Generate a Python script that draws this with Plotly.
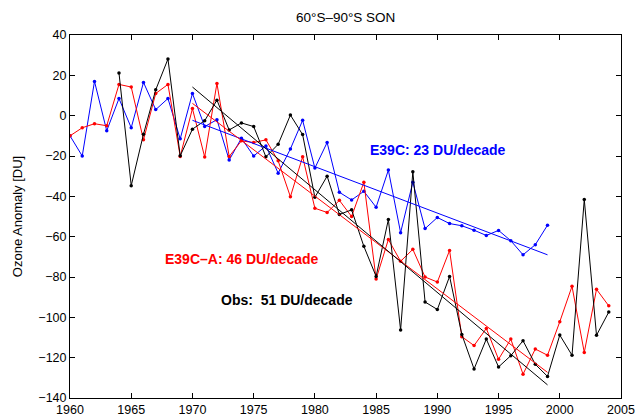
import plotly.graph_objects as go

# ---- data ----
years_e39c = list(range(1960, 2000))
e39c = [-10, -20, 17, -7.5, 8.5, -6, 16.5, 3, 8.5, -11.5,
        11, -5.4, -2, -22, -11.2, -20, -15, -28.5, -16.5, -2.3,
        -26, -13.3, -38, -41.8, -37.5, -45.4, -27, -58, -33, -56,
        -50.5, -53.5, -54.6, -56.8, -59.4, -56.9, -62, -69, -64, -54.3]

years_e39ca = list(range(1960, 2005))
e39ca = [-10, -6, -4, -5, 15.5, 14.2, -12, 11, 15.5, -20.2,
         3.5, -20.5, 16, -20.2, -12.5, -13.3, -12, -22.4, -40.2, -20.4,
         -45.9, -48, -42, -50, -33, -81, -61.4, -72.2, -66.3, -80,
         -82.5, -66.8, -109.6, -114, -105.5, -120.8, -110.8, -128.2, -115.7, -118.8,
         -102.2, -84.6, -117.4, -86.1, -94.3]

years_obs = list(range(1964, 2005))
obs = [21.2, -34.7, -9.2, 12.8, 28.1, -19.9,
       -6.7, -2.5, 7.7, -7.1, -3.6, -5.4, -20.4, -14.2, 0.3, -9.4,
       -40.5, -30, -49, -46.7, -64.8, -79.7, -51.5, -106.3, -27.8, -92.4,
       -96.1, -79.7, -108.5, -125.6, -110.8, -124.6, -119, -111.6, -123.3, -129.3,
       -108.8, -118.8, -41.6, -108.9, -97.4]

trend_years = [1970, 1999]
trend_e39c = [-2.3, -69.0]
trend_e39ca = [6.1, -127.3]
trend_obs = [14.2, -133.5]

x_ticks = list(range(1960, 2006, 5))
y_ticks = list(range(-140, 41, 20))

BLUE, RED, BLACK = "#0000FF", "#FF0000", "#000000"
FONT = "Liberation Sans, Arial, Helvetica, sans-serif"

fig = go.Figure()


def series(x, y, c):
    fig.add_trace(go.Scatter(x=x, y=y, mode="lines+markers",
                             line=dict(color=c, width=1),
                             marker=dict(color=c, size=3.5),
                             showlegend=False, hoverinfo="skip"))


def trend(x, y, c):
    fig.add_trace(go.Scatter(x=x, y=y, mode="lines",
                             line=dict(color=c, width=1),
                             showlegend=False, hoverinfo="skip"))


series(years_e39c, e39c, BLUE)
series(years_e39ca, e39ca, RED)
series(years_obs, obs, BLACK)
trend(trend_years, trend_e39c, BLUE)
trend(trend_years, trend_e39ca, RED)
trend(trend_years, trend_obs, BLACK)

axis_common = dict(showgrid=False, zeroline=False, showline=True,
                   linecolor="black", linewidth=1, mirror="ticks",
                   ticks="inside", ticklen=5, tickcolor="black",
                   tickfont=dict(family=FONT, size=12.5, color="black"))

fig.update_xaxes(range=[1960, 2005], tickvals=x_ticks,
                 ticktext=[str(v) for v in x_ticks], **axis_common)
fig.update_yaxes(range=[-140, 40], tickvals=y_ticks, **axis_common)

fig.update_layout(
    width=638, height=416,
    margin=dict(l=70, r=17, t=35, b=18, autoexpand=False),
    paper_bgcolor="white", plot_bgcolor="white",
    font=dict(family=FONT, size=12.5, color="black"),
    annotations=[
        dict(text="60°S–90°S SON", xref="paper", yref="paper",
             x=0.5, y=1.047, xanchor="center", yanchor="middle",
             showarrow=False, font=dict(family=FONT, size=13.5, color="black")),
        dict(text="Ozone Anomaly [DU]", xref="paper", yref="paper",
             x=-0.095, y=0.5, xanchor="center", yanchor="middle",
             textangle=-90, showarrow=False,
             font=dict(family=FONT, size=13, color="black")),
        dict(text="<b>E39C: 23 DU/decade</b>", x=1984.3, y=-17,
             xanchor="left", yanchor="middle", showarrow=False,
             font=dict(family=FONT, size=14, color=BLUE)),
        dict(text="<b>E39C–A: 46 DU/decade</b>", x=1967.6, y=-71,
             xanchor="left", yanchor="middle", showarrow=False,
             font=dict(family=FONT, size=14, color=RED)),
        dict(text="<b>Obs:  51 DU/decade</b>", x=1972.2, y=-91.5,
             xanchor="left", yanchor="middle", showarrow=False,
             font=dict(family=FONT, size=14, color=BLACK)),
    ],
)

fig.write_html("out.html",
               config={"displayModeBar": False, "staticPlot": True},
               post_script="document.body.style.margin='0';"
                           "document.body.style.overflow='hidden';")
